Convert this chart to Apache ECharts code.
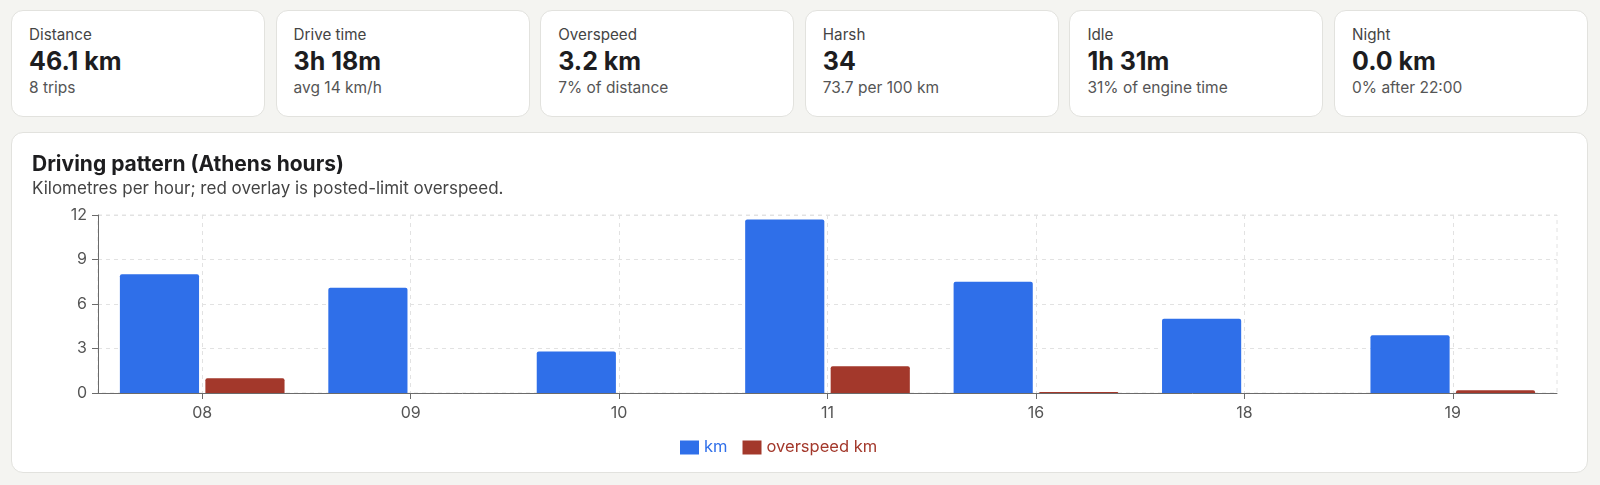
<!DOCTYPE html>
<html>
<head>
<meta charset="utf-8">
<script src="https://cdn.jsdelivr.net/npm/echarts@6/dist/echarts.min.js"></script>
<style>
  html, body { margin: 0; padding: 0; }
  body { width: 1600px; height: 485px; background: #f4f4f1; position: relative; overflow: hidden;
         font-family: Inter, "Noto Sans", sans-serif; color: #1d1d1f; }
  .cards { position: absolute; left: 11px; top: 10px; width: 1577px; height: 107px; display: flex; gap: 10.7px; }
  .card { flex: 1 1 0; box-sizing: border-box; background: #fff; border: 1px solid #e2e2de; border-radius: 12px;
          position: relative; }
  .card .lbl { position: absolute; left: 17px; top: 14px; font-size: 15.2px; color: #444; line-height: 20px; white-space: nowrap; }
  .card .val { position: absolute; left: 17px; top: 35px; font-size: 25px; font-weight: 700; color: #1d1d1f; line-height: 30px; white-space: nowrap; }
  .card .sub { position: absolute; left: 17px; top: 67px; font-size: 15.5px; color: #555; line-height: 20px; white-space: nowrap; }
  .panel { position: absolute; left: 11px; top: 132px; width: 1577px; height: 341px; box-sizing: border-box;
           background: #fff; border: 1px solid #e2e2de; border-radius: 12px; }
  .title { position: absolute; left: 20px; top: 17px; font-size: 21px; font-weight: 700; color: #1d1d1f; line-height: 28px; white-space: nowrap; }
  .subtitle { position: absolute; left: 20px; top: 43px; font-size: 17px; color: #444; line-height: 24px; white-space: nowrap; }
  #chart { position: absolute; left: -1px; top: -1px; width: 1577px; height: 341px; }
</style>
</head>
<body>
<div class="cards" id="cards"></div>
<div class="panel">
  <div id="chart"></div>
  <div class="title">Driving pattern (Athens hours)</div>
  <div class="subtitle">Kilometres per hour; red overlay is posted-limit overspeed.</div>
</div>
<script>
// ---- data ----
const cardLabels = ["Distance", "Drive time", "Overspeed", "Harsh", "Idle", "Night"];
const cardValues = ["46.1 km", "3h 18m", "3.2 km", "34", "1h 31m", "0.0 km"];
const cardNotes  = ["8 trips", "avg 14 km/h", "7% of distance", "73.7 per 100 km", "31% of engine time", "0% after 22:00"];

const hours        = ["08", "09", "10", "11", "16", "18", "19"];
const kmValues     = [8.0, 7.1, 2.8, 11.7, 7.5, 5.0, 3.9];
const overspeedKm  = [1.0, 0, 0, 1.8, 0.07, 0, 0.18];
const seriesNames  = ["km", "overspeed km"];
const yTicks       = { min: 0, max: 12, interval: 3 };

// ---- cards ----
const cardsEl = document.getElementById("cards");
cardLabels.forEach((l, i) => {
  const d = document.createElement("div");
  d.className = "card";
  d.innerHTML = '<div class="lbl"></div><div class="val"></div><div class="sub"></div>';
  d.querySelector(".lbl").textContent = l;
  d.querySelector(".val").textContent = cardValues[i];
  d.querySelector(".sub").textContent = cardNotes[i];
  cardsEl.appendChild(d);
});

// ---- chart ----
const BLUE = "#2f6fe9";
const RED = "#a3382b";
const axisColor = "#6b6b6b";
const gridColor = "#e2e2e2";
const FONT = "Inter, 'Noto Sans', sans-serif";
const chart = echarts.init(document.getElementById("chart"), null, { renderer: "canvas" });
chart.setOption({
  animation: false,
  textStyle: { fontFamily: FONT },
  grid: {
    left: 87, right: 31, top: 83, bottom: 80,
    show: true, borderColor: gridColor, borderWidth: 1, borderType: [4, 4], backgroundColor: "transparent"
  },
  legend: {
    data: [
      { name: seriesNames[0], textStyle: { color: BLUE } },
      { name: seriesNames[1], textStyle: { color: RED } }
    ],
    left: 664, top: 302,
    itemWidth: 19, itemHeight: 14, itemGap: 15,
    icon: "rect",
    textStyle: { fontSize: 16.5, fontFamily: FONT }
  },
  xAxis: {
    type: "category",
    data: hours,
    axisLine: { show: true, lineStyle: { color: axisColor, width: 1 } },
    axisTick: { show: true, alignWithLabel: true, length: 6, lineStyle: { color: axisColor } },
    axisLabel: { color: "#555", fontSize: 16, margin: 12 },
    splitLine: { show: true, alignWithLabel: true, lineStyle: { color: gridColor, type: [4, 4], width: 1 } }
  },
  yAxis: {
    type: "value",
    min: yTicks.min, max: yTicks.max, interval: yTicks.interval,
    axisLine: { show: true, lineStyle: { color: axisColor, width: 1 } },
    axisTick: { show: true, length: 6, lineStyle: { color: axisColor } },
    axisLabel: { color: "#555", fontSize: 16, margin: 11 },
    splitLine: { show: true, lineStyle: { color: gridColor, type: [4, 4], width: 1 } }
  },
  series: [
    {
      name: seriesNames[0], type: "bar", data: kmValues,
      barCategoryGap: "21%", barGap: "8%",
      itemStyle: { color: BLUE, borderRadius: [2, 2, 0, 0] }
    },
    {
      name: seriesNames[1], type: "bar", data: overspeedKm,
      barCategoryGap: "21%", barGap: "8%",
      itemStyle: { color: RED, borderRadius: [2, 2, 0, 0] }
    }
  ]
});
</script>
</body>
</html>
